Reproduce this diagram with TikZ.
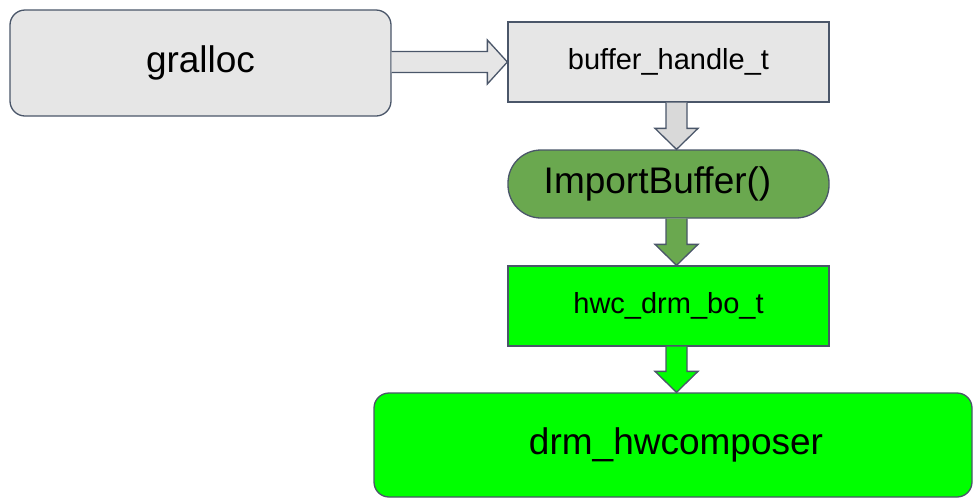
\documentclass[tikz,border=0pt]{standalone}
\usepackage{fontspec}
\setmainfont{Liberation Sans}
\usetikzlibrary{calc}
\definecolor{edgeclr}{HTML}{4A5669}
\definecolor{boxgray}{HTML}{E6E6E6}
\definecolor{arrgray}{HTML}{D9D9D9}
\definecolor{funcgreen}{HTML}{6AA84F}
\definecolor{bogreen}{HTML}{00FF00}
\newcommand{\clrline}{edgeclr}
\tikzset{
    box/.style = {draw=\clrline, line width=1.3pt, minimum width=321pt, minimum height=80pt, inner sep=0pt},
    bigtext/.style = {font=\fontsize{37}{40}\selectfont},
    smalltext/.style = {font=\fontsize{29}{32}\selectfont},
    blk/.style = {draw=\clrline, line width=1.3pt, line join=miter},
}

\begin{document}
\begin{tikzpicture}[x=1pt, y=-1pt]
    \useasboundingbox (0,0) rectangle (973,499);
    %boxes
        \node[box, bigtext, fill=boxgray, rounded corners=15pt, minimum width=381pt, minimum height=106pt] (gralloc) at (200.5,63) {gralloc};
        \node[box, smalltext, fill=boxgray] (buf) at (668.5,62) {buffer\_handle\_t};
        \node[box, bigtext, fill=funcgreen, rounded corners=33pt, minimum height=68pt] (imp) at (668.5,184) {ImportBuffer()\hspace*{22pt}};
        \node[box, smalltext, fill=bogreen] (bo) at (668.5,306) {hwc\_drm\_bo\_t};
        \node[box, bigtext, fill=bogreen, rounded corners=15pt, minimum width=598pt, minimum height=104pt] (drm) at (673,445) {\hspace*{6pt}drm\_hwcomposer};
    %arrow gralloc to buffer_handle_t
        \draw[blk, fill=boxgray] ($(gralloc.east |- buf.west)+(0,-10.5)$) -- ($(buf.west)+(-20,-10.5)$) -- ($(buf.west)+(-20,-22)$)
            -- (buf.west) -- ($(buf.west)+(-20,22)$) -- ($(buf.west)+(-20,10.5)$) -- ($(gralloc.east |- buf.west)+(0,10.5)$);
    %arrows down
        \foreach \a/\b/\c in {buf/imp/arrgray, imp/bo/funcgreen, bo/drm/bogreen} {
            \coordinate (s) at ($(\a.south)+(8,0)$);
            \coordinate (t) at (s |- \b.north);
            \draw[blk, fill=\c] ($(s)+(-10.5,0)$) -- ($(t)+(-10.5,-21)$) -- ($(t)+(-21.5,-21)$) -- (t)
                -- ($(t)+(21.5,-21)$) -- ($(t)+(10.5,-21)$) -- ($(s)+(10.5,0)$);
        }
\end{tikzpicture}
\end{document}
